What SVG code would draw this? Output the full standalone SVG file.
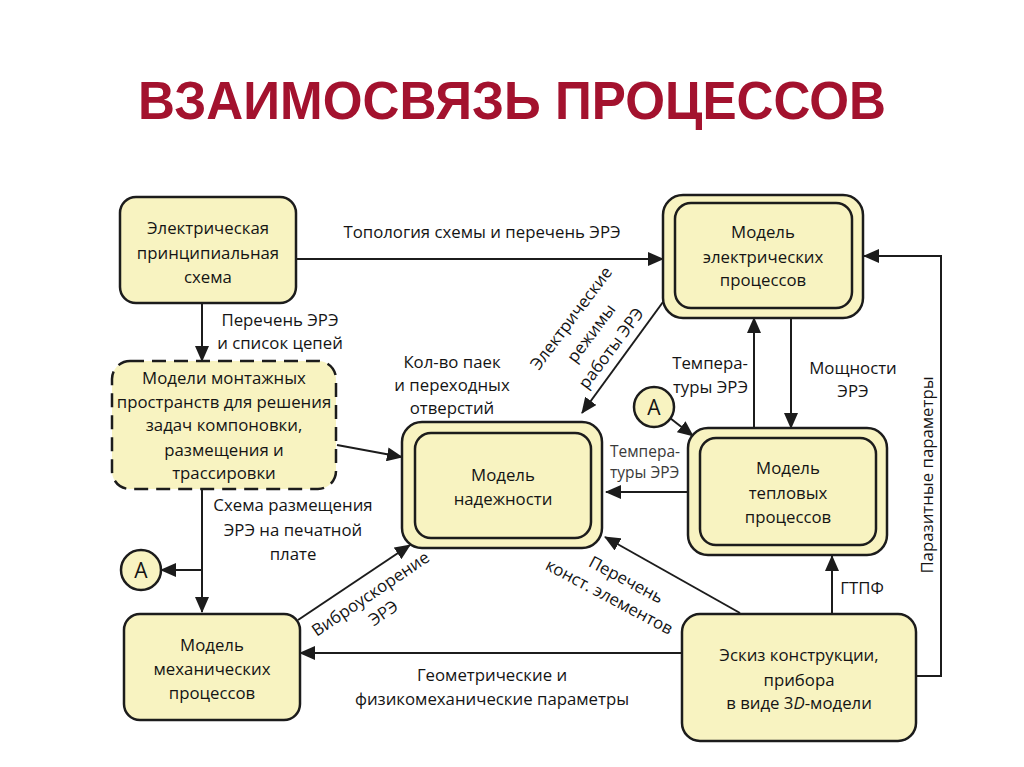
<svg xmlns="http://www.w3.org/2000/svg" width="1024" height="767" viewBox="0 0 1024 767">
<defs>
<style>
.n{fill:#f8f3c1;stroke:#1c1c1c;stroke-width:2.5}
.d{fill:#f8f3c1;stroke:#1c1c1c;stroke-width:2.5;stroke-dasharray:14 8}
.t{font-family:"Open Sans","Noto Sans",sans-serif;font-size:16.8px;fill:#141414;text-anchor:middle}
.s{font-family:"Open Sans","Noto Sans",sans-serif;font-size:15.5px;fill:#3a3a3a}
.c{fill:none;stroke:#1c1c1c;stroke-width:2}
.title{font-family:"Liberation Sans",Arial,sans-serif;font-weight:bold;font-size:54px;fill:#a3122e}
</style>
<marker id="ah" markerWidth="16" markerHeight="14" refX="15" refY="7" orient="auto" markerUnits="userSpaceOnUse">
<path d="M0,0 L16,7 L0,14 Z" fill="#1c1c1c"/>
</marker>
</defs>
<rect width="1024" height="767" fill="#ffffff"/>
<text class="title" x="138" y="119" textLength="748" lengthAdjust="spacingAndGlyphs">ВЗАИМОСВЯЗЬ ПРОЦЕССОВ</text>

<g id="connectors">
<line class="c" x1="296" y1="259" x2="663" y2="259" marker-end="url(#ah)"/>
<line class="c" x1="202" y1="303" x2="202" y2="361" marker-end="url(#ah)"/>
<line class="c" x1="337" y1="445" x2="402" y2="457" marker-end="url(#ah)"/>
<line class="c" x1="202" y1="489" x2="202" y2="612" marker-end="url(#ah)"/>
<line class="c" x1="202" y1="570" x2="161" y2="570" marker-end="url(#ah)"/>
<line class="c" x1="663" y1="302" x2="582" y2="413" marker-end="url(#ah)"/>
<line class="c" x1="754" y1="428" x2="754" y2="318" marker-end="url(#ah)"/>
<line class="c" x1="791" y1="318" x2="791" y2="428" marker-end="url(#ah)"/>
<line class="c" x1="670" y1="418" x2="693" y2="436" marker-end="url(#ah)"/>
<line class="c" x1="688" y1="492" x2="606" y2="492" marker-end="url(#ah)"/>
<line class="c" x1="832" y1="614" x2="832" y2="556" marker-end="url(#ah)"/>
<polyline class="c" points="916,676 941,676 941,256 864,256" marker-end="url(#ah)"/>
<line class="c" x1="740" y1="613" x2="605" y2="537" marker-end="url(#ah)"/>
<line class="c" x1="682" y1="653" x2="300" y2="653" marker-end="url(#ah)"/>
<line class="c" x1="298" y1="620" x2="410" y2="545" marker-end="url(#ah)"/>
</g>

<g id="labels">
<text class="t" x="482" y="238">Топология схемы и перечень ЭРЭ</text>
<text class="t" x="280" y="326">Перечень ЭРЭ</text>
<text class="t" x="280" y="349">и список цепей</text>
<text class="t" x="452" y="368">Кол-во паек</text>
<text class="t" x="452" y="391">и переходных</text>
<text class="t" x="452" y="414">отверстий</text>
<text class="t" x="293" y="511">Схема размещения</text>
<text class="t" x="293" y="536">ЭРЭ на печатной</text>
<text class="t" x="293" y="560">плате</text>
<g transform="translate(591,333) rotate(-53)">
<text class="t" x="0" y="-19">Электрические</text>
<text class="t" x="0" y="6">режимы</text>
<text class="t" x="0" y="31">работы ЭРЭ</text>
</g>
<text class="t" x="748" y="369" style="text-anchor:end">Темпера-</text>
<text class="t" x="748" y="393" style="text-anchor:end">туры ЭРЭ</text>
<text class="t" x="853" y="374">Мощности</text>
<text class="t" x="853" y="397">ЭРЭ</text>
<text class="s" x="610" y="457">Темпера-</text>
<text class="s" x="610" y="478">туры ЭРЭ</text>
<text class="t" x="862" y="594">ГТПФ</text>
<text class="t" transform="translate(933,475) rotate(-90)" x="0" y="0">Паразитные параметры</text>
<g transform="translate(376,602) rotate(-34)">
<text class="t" x="0" y="-4">Виброускорение</text>
<text class="t" x="0" y="19">ЭРЭ</text>
</g>
<g transform="translate(615,586) rotate(28)">
<text class="t" x="7" y="-5">Перечень</text>
<text class="t" x="0" y="18">конст. элементов</text>
</g>
<text class="t" x="492" y="681">Геометрические и</text>
<text class="t" x="492" y="705">физикомеханические параметры</text>
</g>

<g id="node-scheme">
<rect class="n" x="120" y="197" width="176" height="106" rx="16"/>
<text class="t" x="208" y="234">Электрическая</text>
<text class="t" x="208" y="259">принципиальная</text>
<text class="t" x="208" y="283">схема</text>
</g>

<g id="node-mount">
<rect class="d" x="112" y="361" width="224" height="128" rx="18"/>
<text class="t" x="224" y="384">Модели монтажных</text>
<text class="t" x="224" y="408">пространств для решения</text>
<text class="t" x="224" y="431">задач компоновки,</text>
<text class="t" x="224" y="456">размещения и</text>
<text class="t" x="224" y="479">трассировки</text>
</g>

<g id="node-reliability">
<rect class="n" x="402" y="422" width="200" height="126" rx="20"/>
<rect class="n" x="415" y="433" width="176" height="105" rx="16"/>
<text class="t" x="503" y="481">Модель</text>
<text class="t" x="503" y="505">надежности</text>
</g>

<g id="node-electrical">
<rect class="n" x="663" y="195" width="200" height="123" rx="20"/>
<rect class="n" x="675" y="203" width="177" height="105" rx="16"/>
<text class="t" x="763" y="238">Модель</text>
<text class="t" x="763" y="263">электрических</text>
<text class="t" x="763" y="286">процессов</text>
</g>

<g id="node-thermal">
<rect class="n" x="688" y="428" width="199" height="127" rx="20"/>
<rect class="n" x="700" y="438" width="176" height="107" rx="16"/>
<text class="t" x="788" y="474">Модель</text>
<text class="t" x="788" y="499">тепловых</text>
<text class="t" x="788" y="523">процессов</text>
</g>

<g id="node-sketch">
<rect class="n" x="682" y="614" width="234" height="127" rx="18"/>
<text class="t" x="799" y="661">Эскиз конструкции,</text>
<text class="t" x="799" y="686">прибора</text>
<text class="t" x="799" y="709">в виде 3<tspan font-style="italic">D</tspan>-модели</text>
</g>

<g id="node-mech">
<rect class="n" x="124" y="614" width="176" height="106" rx="16"/>
<text class="t" x="212" y="651">Модель</text>
<text class="t" x="212" y="675">механических</text>
<text class="t" x="212" y="699">процессов</text>
</g>

<g id="node-a-left">
<circle class="n" cx="141" cy="570" r="20"/>
<text class="t" x="141" y="578" style="font-size:21px">А</text>
</g>

<g id="node-a-right">
<circle class="n" cx="654" cy="407" r="20"/>
<text class="t" x="654" y="415" style="font-size:21px">А</text>
</g>
</svg>
